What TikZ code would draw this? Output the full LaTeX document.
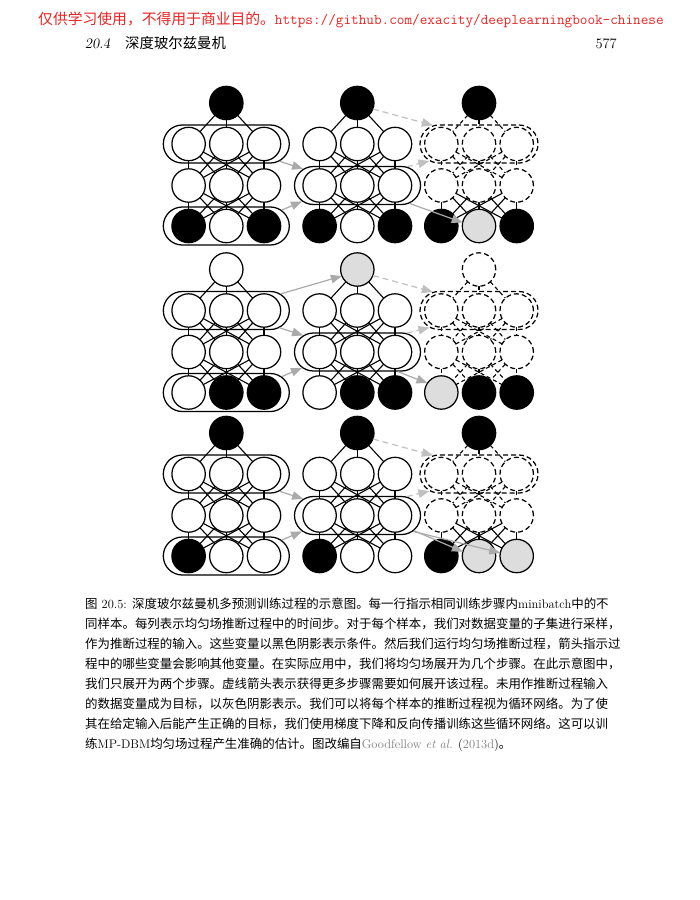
\documentclass[tikz,border=0pt]{standalone}
\usepackage{fontspec}
\newfontfamily\cjk{Noto Sans CJK SC}
\usetikzlibrary{shapes.misc,arrows.meta}
\pgfdeclarelayer{bg}
\pgfsetlayers{bg,main}
\definecolor{hdred}{RGB}{235,35,35}
\definecolor{tgray}{RGB}{221,221,221}
\definecolor{agray}{RGB}{170,170,170}
\definecolor{dgray}{RGB}{192,192,192}
\definecolor{cgray}{RGB}{125,125,125}
\tikzset{
 unitbase/.style={circle, draw=black, line width=1.25pt, minimum size=33.4pt, inner sep=0pt, outer sep=0pt},
 stW/.style={unitbase, fill=white},
 stB/.style={unitbase, fill=black},
 stG/.style={unitbase, fill=tgray},
 stD/.style={unitbase, fill=white, dash pattern=on 5pt off 3pt},
 pill/.style={rounded rectangle, draw=black, line width=1.25pt, minimum width=126pt, minimum height=38pt, inner sep=0pt},
 dpill/.style={pill, minimum width=118pt, dash pattern=on 5pt off 3pt},
 sedge/.style={line width=1.1pt},
 dedge/.style={line width=1.1pt, dash pattern=on 4pt off 3pt},
 arr/.style={draw=agray, line width=1.2pt, -{Triangle[length=11pt,width=8.5pt]}},
 darr/.style={draw=dgray, line width=1.2pt, dash pattern=on 6pt off 4pt, -{Triangle[length=11pt,width=8.5pt]}},
 txt/.style={inner sep=0pt, anchor=base west, font=\fontsize{12.45}{20}\selectfont},
 hdr/.style={inner sep=0pt, font=\fontsize{14.4}{17}\selectfont},
}
\newcommand\netcol[7]{%
  \node[st#5] (t#1#2) at (#3,#4) {};
  \foreach \ii in {1,2,3} {
    \node[st#6] (a#1#2\ii) at (#3-75.4+37.7*\ii,#4+41) {};
    \node[st#6] (m#1#2\ii) at (#3-75.4+37.7*\ii,#4+82.5) {};
  }
  \foreach \ss [count=\ii] in {#7} {
    \node[st\ss] (v#1#2\ii) at (#3-75.4+37.7*\ii,#4+123) {};
  }
}
\newcommand\netedges[5]{%
  \foreach \ii in {1,2,3} {
    \draw[#3] (t#1#2) -- (a#1#2\ii);
    \foreach \jj in {1,2,3} {
      \draw[#4] (a#1#2\ii) -- (m#1#2\jj);
      \draw[#5] (m#1#2\ii) -- (v#1#2\jj);
    }
  }
}
\newcommand\pillset[2]{%
  \node[pill] (p#1a) at (226.3,#2+41) {};
  \node[pill] (p#1v) at (226.3,#2+123) {};
  \node[pill] (p#1m) at (357.5,#2+82.5) {};
  \node[dpill] (p#1h) at (479,#2+41) {};
}
\begin{document}
\begin{tikzpicture}[x=1pt,y=-1pt]
\useasboundingbox (0,0) rectangle (700,900);
\begin{pgfonlayer}{bg}
\fill[white] (0,0) rectangle (700,900);
\end{pgfonlayer}

% header
\node[hdr, anchor=base west, text=hdred, font=\fontsize{14.8}{17}\selectfont] (hd) at (38,24)
  {{\cjk 仅供学习使用，不得用于商业目的。}\texttt{https://github.com/exacity/deeplearningbook-chinese}};
\node[hdr, anchor=base west] (secno) at (85,48) {\textsl{20.4}};
\node[hdr, anchor=base west] (sectit) at (125,48) {{\cjk 深度玻尔兹曼机}};
\node[hdr, anchor=base east] (pgno) at (617,48) {577};

% pills
\pillset{1}{103}
\pillset{2}{269.5}
\pillset{3}{433}

% units
\netcol{1}{1}{226.3}{103}{B}{W}{B,W,B}
\netcol{1}{2}{357.3}{103}{B}{W}{B,W,B}
\netcol{1}{3}{479}{103}{B}{D}{B,G,B}
\netcol{2}{1}{226.3}{269.5}{W}{W}{W,B,B}
\netcol{2}{2}{357.3}{269.5}{G}{W}{W,B,B}
\netcol{2}{3}{479}{269.5}{D}{D}{G,B,B}
\netcol{3}{1}{226.3}{433}{B}{W}{B,W,W}
\netcol{3}{2}{357.3}{433}{B}{W}{B,W,W}
\netcol{3}{3}{479}{433}{B}{D}{B,G,G}

% edges
\begin{pgfonlayer}{bg}
\netedges{1}{1}{sedge}{sedge}{sedge}
\netedges{1}{2}{sedge}{sedge}{sedge}
\netedges{1}{3}{dedge}{dedge}{sedge}
\netedges{2}{1}{sedge}{sedge}{sedge}
\netedges{2}{2}{sedge}{sedge}{sedge}
\netedges{2}{3}{dedge}{dedge}{dedge}
\netedges{3}{1}{sedge}{sedge}{sedge}
\netedges{3}{2}{sedge}{sedge}{sedge}
\netedges{3}{3}{dedge}{dedge}{sedge}
\end{pgfonlayer}

% arrows
\foreach \bk in {1,2,3} {
  \draw[arr] (p\bk a.-18) -- (p\bk m.163);
  \draw[arr] (p\bk v.16) -- (p\bk m.196);
  \draw[darr] (t\bk2.-21) -- (p\bk h.158);
  \draw[darr] (p\bk m.21) -- (p\bk h.199);
}
\draw[arr] (p1m.-19) -- (v132.168);
\draw[arr] (p2a.17) -- (t22.203);
\draw[arr] (p2m.-26) -- (v231.146);
\draw[arr] (p3m.-15) -- (v332.165);
\draw[arr] (p3m.-16) -- (v333.169);

% caption
\node[txt] (cap1) at (85,608) {{\cjk 图} 20.5: {\cjk 深度玻尔兹曼机多预测训练过程的示意图。每一行指示相同训练步骤内}minibatch{\cjk 中的不}};
\node[txt] (cap2) at (85,628) {{\cjk 同样本。每列表示均匀场推断过程中的时间步。对于每个样本，我们对数据变量的子集进行采样，}};
\node[txt] (cap3) at (85,648) {{\cjk 作为推断过程的输入。这些变量以黑色阴影表示条件。然后我们运行均匀场推断过程，箭头指示过}};
\node[txt] (cap4) at (85,668) {{\cjk 程中的哪些变量会影响其他变量。在实际应用中，我们将均匀场展开为几个步骤。在此示意图中，}};
\node[txt] (cap5) at (85,688) {{\cjk 我们只展开为两个步骤。虚线箭头表示获得更多步骤需要如何展开该过程。未用作推断过程输入}};
\node[txt] (cap6) at (85,708) {{\cjk 的数据变量成为目标，以灰色阴影表示。我们可以将每个样本的推断过程视为循环网络。为了使}};
\node[txt] (cap7) at (85,728) {{\cjk 其在给定输入后能产生正确的目标，我们使用梯度下降和反向传播训练这些循环网络。这可以训}};
\node[txt] (cap8) at (85,748) {{\cjk 练}MP-DBM{\cjk 均匀场过程产生准确的估计。图改编自}\textcolor{cgray}{Goodfellow \textit{et al.}} (\textcolor{cgray}{2013d}){\cjk 。}};
\end{tikzpicture}
\end{document}
